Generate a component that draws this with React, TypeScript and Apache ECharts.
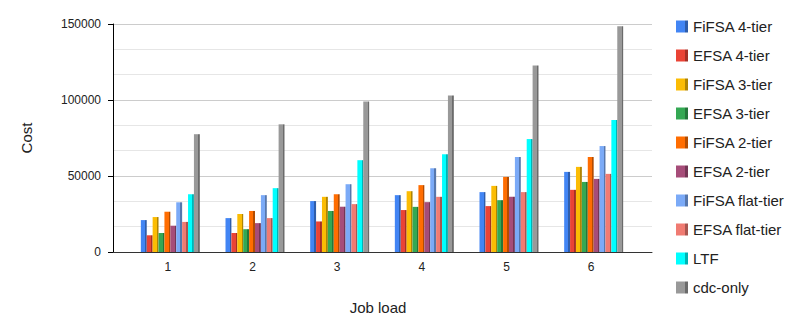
import React, { useEffect, useRef } from "react";
import * as echarts from "echarts";

const categories = ["1", "2", "3", "4", "5", "6"];
const seriesNames = [
  "FiFSA 4-tier",
  "EFSA 4-tier",
  "FiFSA 3-tier",
  "EFSA 3-tier",
  "FiFSA 2-tier",
  "EFSA 2-tier",
  "FiFSA flat-tier",
  "EFSA flat-tier",
  "LTF",
  "cdc-only",
];
const fifsa4 = [21000, 22300, 33500, 37400, 39400, 52700];
const efsa4 = [11000, 12500, 20100, 27600, 30200, 40900];
const fifsa3 = [23000, 25000, 36300, 40000, 43500, 56000];
const efsa3 = [12500, 15000, 27000, 29700, 34100, 46100];
const fifsa2 = [26500, 27000, 38000, 44000, 49400, 62500];
const efsa2 = [17300, 19000, 29800, 32800, 36300, 48100];
const fifsaFlat = [32700, 37400, 44600, 55100, 62500, 69700];
const efsaFlat = [19800, 22300, 31500, 36300, 39400, 51400];
const ltf = [38000, 42000, 60400, 64300, 74300, 86800];
const cdcOnly = [77500, 84000, 99000, 103000, 122700, 148500];
const seriesValues = [fifsa4, efsa4, fifsa3, efsa3, fifsa2, efsa2, fifsaFlat, efsaFlat, ltf, cdcOnly];
const yTicks = [0, 50000, 100000, 150000];

const colors = [
  "#4285F4",
  "#EA4335",
  "#FBBC04",
  "#34A853",
  "#FF6D01",
  "#A64D79",
  "#7BAAF7",
  "#F07B72",
  "#00FFFF",
  "#999999",
];

function darken(hex: string, f: number) {
  const n = parseInt(hex.slice(1), 16);
  const r = Math.round(((n >> 16) & 255) * f);
  const g = Math.round(((n >> 8) & 255) * f);
  const b = Math.round((n & 255) * f);
  return `rgb(${r},${g},${b})`;
}

const FONT = "Arial, 'Liberation Sans', sans-serif";

export default function App() {
  const ref = useRef<HTMLDivElement>(null);
  useEffect(() => {
    if (!ref.current) return;
    document.body.style.margin = "0";
    const chart = echarts.init(ref.current, null, { renderer: "svg" });
    const option: any = {
      animation: false,
      backgroundColor: "#ffffff",
      textStyle: { fontFamily: FONT },
      grid: [
        { left: 113, right: 153, top: 24, bottom: 83, containLabel: false },
        { left: 128, right: 169, top: 24, bottom: 83, containLabel: false },
      ],
      legend: {
        orient: "vertical",
        left: 671,
        top: 14,
        icon: "rect",
        itemWidth: 12,
        itemHeight: 12,
        itemGap: 14,
        data: seriesNames,
        textStyle: { fontSize: 15, color: "#222", fontFamily: FONT },
      },
      xAxis: [
        {
          type: "category",
          gridIndex: 0,
          data: categories,
          axisLine: { show: true, lineStyle: { color: "#333", width: 1 } },
          axisTick: { show: false },
          axisLabel: { show: false },
          splitLine: { show: false },
          name: "Job load",
          nameLocation: "middle",
          nameGap: 48,
          nameTextStyle: { fontSize: 15, color: "#222", fontFamily: FONT, padding: [0, 9, 0, 0] },
        },
        {
          type: "category",
          gridIndex: 1,
          data: categories,
          axisLine: { show: false },
          axisTick: { show: false },
          axisLabel: { fontSize: 12, color: "#222", margin: 9, fontFamily: FONT, padding: [0, 5, 0, 0] },
          splitLine: { show: false },
        },
      ],
      yAxis: [
        {
          type: "value",
          gridIndex: 0,
          min: yTicks[0],
          max: yTicks[yTicks.length - 1],
          interval: yTicks[1] - yTicks[0],
          axisLine: { show: true, lineStyle: { color: "#000", width: 1 } },
          axisTick: { show: true, length: 5, lineStyle: { color: "#000" } },
          axisLabel: {
            fontSize: 12,
            color: "#222",
            margin: 12,
            fontFamily: FONT,
            formatter: (v: number) => String(v),
          },
          splitLine: { show: true, lineStyle: { color: "#cccccc", width: 1 } },
          minorTick: { show: false, splitNumber: 3 },
          minorSplitLine: { show: true, lineStyle: { color: "#e6e6e6", width: 1 } },
          name: "Cost",
          nameLocation: "middle",
          nameGap: 79,
          nameTextStyle: { fontSize: 15, color: "#222", fontFamily: FONT },
        },
        {
          type: "value",
          gridIndex: 1,
          min: yTicks[0],
          max: yTicks[yTicks.length - 1],
          interval: yTicks[1] - yTicks[0],
          show: false,
          splitLine: { show: false },
        },
      ],
      series: seriesNames.map((name, i) => ({
        name,
        type: "bar",
        xAxisIndex: 1,
        yAxisIndex: 1,
        data: seriesValues[i],
        barWidth: 5.9,
        barGap: "0%",
        itemStyle: {
          color: {
            type: "linear",
            x: 0,
            y: 0,
            x2: 1,
            y2: 0,
            colorStops: [
              { offset: 0, color: colors[i] },
              { offset: 0.72, color: colors[i] },
              { offset: 0.72, color: darken(colors[i], 0.7) },
              { offset: 1, color: darken(colors[i], 0.7) },
            ],
          },
        },
      })),
      color: colors,
    };
    chart.setOption(option);
    return () => chart.dispose();
  }, []);
  return <div ref={ref} style={{ width: 805, height: 335 }} />;
}
